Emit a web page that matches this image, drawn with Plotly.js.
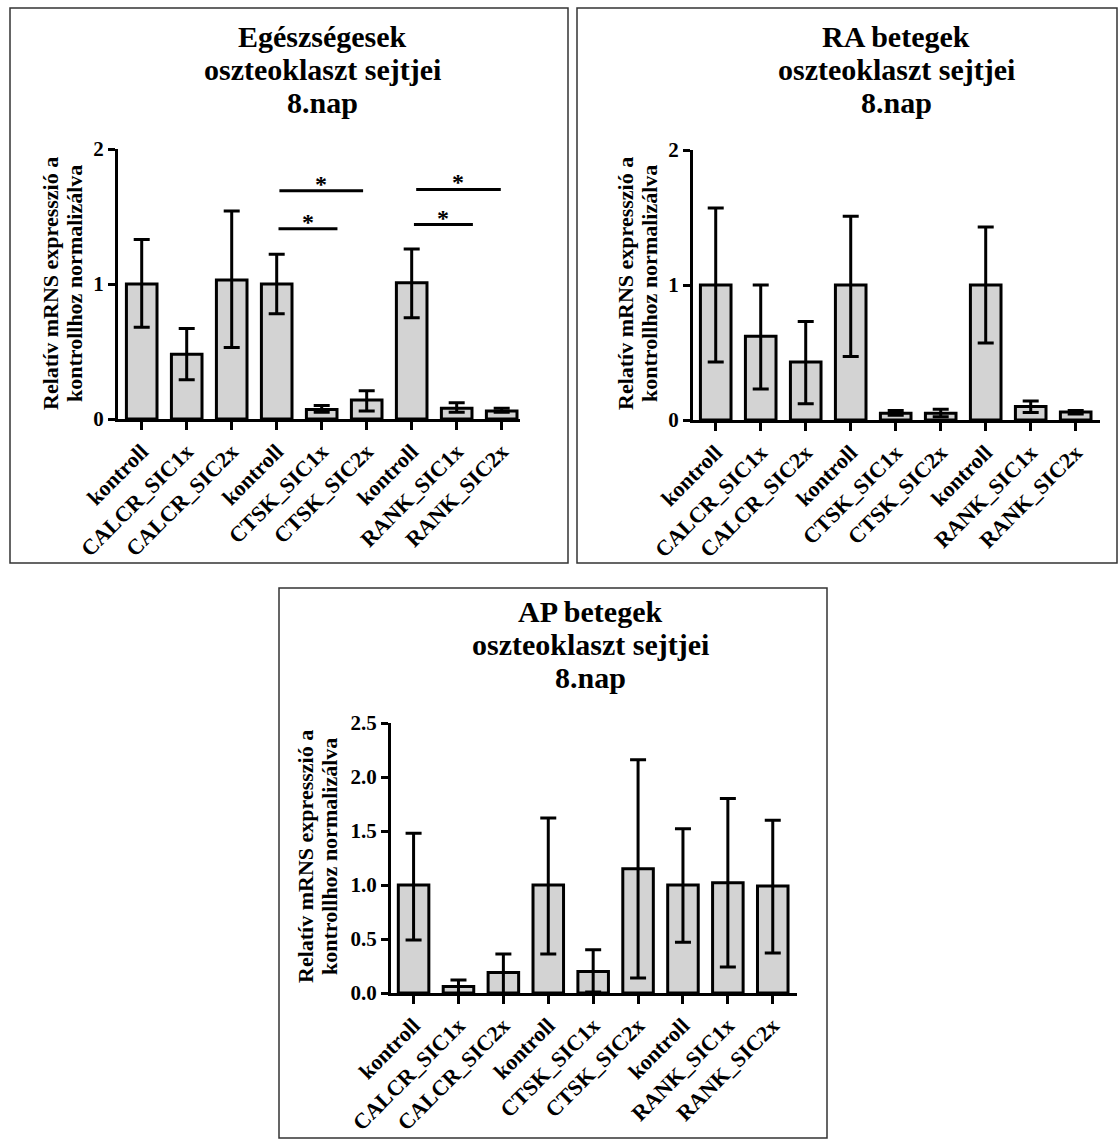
<!DOCTYPE html>
<html>
<head>
<meta charset="utf-8">
<script src="https://cdn.plot.ly/plotly-3.0.1.min.js"></script>
<style>html,body{margin:0;padding:0;background:#fff;}#chart{width:1120px;height:1140px;}</style>
</head>
<body>
<div id="chart"></div>
<script>
// ---- Data ----
const categories = ["kontroll","CALCR_SIC1x","CALCR_SIC2x","kontroll","CTSK_SIC1x","CTSK_SIC2x","kontroll","RANK_SIC1x","RANK_SIC2x"];

const titleHealthy = ["Egészségesek", "oszteoklaszt sejtjei", "8.nap"];
const titleRA = ["RA betegek", "oszteoklaszt sejtjei", "8.nap"];
const titleAP = ["AP betegek", "oszteoklaszt sejtjei", "8.nap"];
const yTitle = ["Relatív mRNS expresszió a", "kontrollhoz normalizálva"];

const healthyMean  = [1.00, 0.48, 1.03, 1.00, 0.07, 0.14, 1.01, 0.08, 0.06];
const healthyUpper = [1.33, 0.67, 1.54, 1.22, 0.10, 0.21, 1.26, 0.12, 0.08];
const healthyLower = [0.68, 0.29, 0.53, 0.78, 0.05, 0.06, 0.75, 0.05, 0.05];

const raMean  = [1.00, 0.62, 0.43, 1.00, 0.05, 0.05, 1.00, 0.10, 0.06];
const raUpper = [1.57, 1.00, 0.73, 1.51, 0.07, 0.08, 1.43, 0.14, 0.07];
const raLower = [0.43, 0.23, 0.12, 0.47, 0.035, 0.025, 0.57, 0.055, 0.045];

const apMean  = [1.00, 0.06, 0.19, 1.00, 0.20, 1.15, 1.00, 1.02, 0.99];
const apUpper = [1.48, 0.12, 0.36, 1.62, 0.40, 2.16, 1.52, 1.80, 1.60];
const apLower = [0.49, -0.01, -0.01, 0.36, 0.01, 0.14, 0.47, 0.24, 0.37];

// significance brackets (healthy panel)
const sigStart = [3.06, 3.04, 6.10, 6.05];
const sigEnd   = [4.92, 4.35, 7.98, 7.36];
const sigLevel = [1.69, 1.41, 1.70, 1.44];
const sigLabel = ["*", "*", "*", "*"];

const yTicksHealthy = [0, 1, 2];
const yTicksAP = [0, 0.5, 1.0, 1.5, 2.0, 2.5];

// ---- Build ----
const W = 1120, H = 1140;
const px = v => v / W;
const py = v => 1 - v / H;
const FONT = "'Liberation Serif', 'Times New Roman', Times, serif";
const idx = categories.map((_, i) => i);

function barTrace(mean, upper, lower, xa, ya) {
  return {
    type: "bar", x: idx, y: mean, xaxis: xa, yaxis: ya,
    width: 0.68,
    marker: {color: "#d3d3d3", line: {color: "#000", width: 3}},
    error_y: {
      type: "data", symmetric: false,
      array: upper.map((u, i) => u - mean[i]),
      arrayminus: lower.map((l, i) => mean[i] - l),
      color: "#000", thickness: 3, width: 8
    },
    cliponaxis: false, hoverinfo: "skip", showlegend: false
  };
}

const traces = [
  barTrace(healthyMean, healthyUpper, healthyLower, "x", "y"),
  barTrace(raMean, raUpper, raLower, "x2", "y2"),
  barTrace(apMean, apUpper, apLower, "x3", "y3")
];

function xAxis(domain, range, anchor) {
  return {
    domain: domain, range: range, anchor: anchor,
    tickmode: "array", tickvals: idx, ticktext: categories, tickangle: -45,
    showline: true, linewidth: 3, linecolor: "#000",
    ticks: "outside", ticklen: 8, tickwidth: 3, tickcolor: "#000",
    showgrid: false, zeroline: false, fixedrange: true,
    tickfont: {family: FONT, size: 22, color: "#000", weight: "bold"}
  };
}
function yAxis(domain, range, anchor, tickvals, fmt) {
  return {
    domain: domain, range: range, anchor: anchor,
    tickmode: "array", tickvals: tickvals, tickformat: fmt,
    showline: true, linewidth: 3, linecolor: "#000",
    ticks: "outside", ticklen: 7, tickwidth: 3, tickcolor: "#000",
    showgrid: false, zeroline: false, fixedrange: true,
    tickfont: {family: FONT, size: 21, color: "#000", weight: "bold"}
  };
}

const shapes = [
  {type: "rect", xref: "paper", yref: "paper", x0: px(10), x1: px(568), y0: py(8), y1: py(563), line: {color: "#333", width: 1.5}},
  {type: "rect", xref: "paper", yref: "paper", x0: px(577), x1: px(1117), y0: py(8), y1: py(563), line: {color: "#333", width: 1.5}},
  {type: "rect", xref: "paper", yref: "paper", x0: px(279), x1: px(827), y0: py(588), y1: py(1138), line: {color: "#333", width: 1.5}}
];
sigStart.forEach((s, i) => {
  shapes.push({type: "line", xref: "x", yref: "y", x0: s, x1: sigEnd[i], y0: sigLevel[i], y1: sigLevel[i], line: {color: "#000", width: 3}});
});

const annotations = [];
function titleAnn(lines, x, y0) {
  lines.forEach((t, i) => {
    annotations.push({text: t, xref: "paper", yref: "paper", x: px(x), y: py(y0 + i * 33), xanchor: "center", yanchor: "middle",
      showarrow: false, font: {family: FONT, size: 30, color: "#000", weight: "bold"}});
  });
}
function yTitleAnn(x0, y) {
  yTitle.forEach((t, i) => {
    annotations.push({text: t, xref: "paper", yref: "paper", x: px(x0 + i * 24), y: py(y), xanchor: "center", yanchor: "middle",
      textangle: -90, showarrow: false, font: {family: FONT, size: 22, color: "#000", weight: "bold"}});
  });
}
titleAnn(titleHealthy, 322, 37);
titleAnn(titleRA, 896, 37);
titleAnn(titleAP, 590, 611);
yTitleAnn(50, 284);
yTitleAnn(625, 284);
yTitleAnn(305, 857);
sigStart.forEach((s, i) => {
  annotations.push({text: sigLabel[i], xref: "x", yref: "y", x: (s + sigEnd[i]) / 2, y: sigLevel[i],
    xanchor: "center", yanchor: "bottom", yshift: -8, showarrow: false,
    font: {family: FONT, size: 24, color: "#000", weight: "bold"}});
});

const layout = {
  width: W, height: H,
  margin: {l: 0, r: 0, t: 0, b: 0},
  paper_bgcolor: "#fff", plot_bgcolor: "rgba(0,0,0,0)",
  showlegend: false, bargap: 0.3,
  font: {family: FONT},
  xaxis: xAxis([px(118), px(520)], [-0.527, 8.407], "y"),
  yaxis: yAxis([py(419), py(149)], [0, 2], "x", yTicksHealthy, "d"),
  xaxis2: xAxis([px(693), px(1100)], [-0.505, 8.54], "y2"),
  yaxis2: yAxis([py(420), py(150)], [0, 2], "x2", yTicksHealthy, "d"),
  xaxis3: xAxis([px(391), px(797)], [-0.503, 8.54], "y3"),
  yaxis3: yAxis([py(993), py(723)], [0, 2.5], "x3", yTicksAP, ".1f"),
  shapes: shapes,
  annotations: annotations
};

Plotly.newPlot("chart", traces, layout, {displayModeBar: false, staticPlot: true});
</script>
</body>
</html>
